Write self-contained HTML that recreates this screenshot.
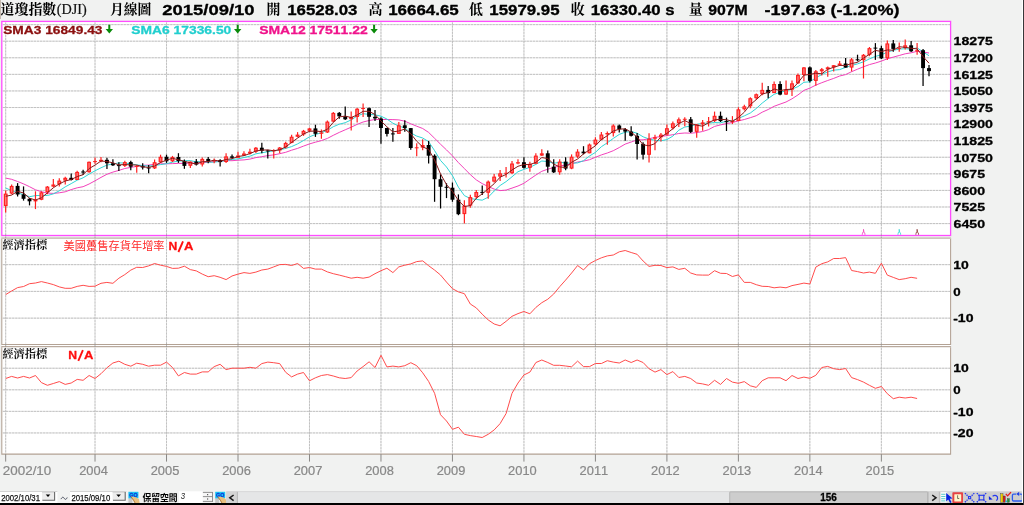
<!DOCTYPE html>
<html><head><meta charset="utf-8"><title>DJI</title><style>html,body{margin:0;padding:0;background:#f1f2f1;overflow:hidden}svg{will-change:transform}svg text{font-kerning:none}</style></head><body>
<svg width="1024" height="505" viewBox="0 0 1024 505" style="display:block">
<rect x="0" y="0" width="1024" height="505" fill="#f1f2f1"/>
<rect x="0" y="0" width="0.7" height="19" fill="#b4a494"/>
<rect x="1.8" y="21.4" width="948.8000000000001" height="214.1" fill="#fff"/>
<rect x="1.8" y="238.0" width="948.8000000000001" height="106.39999999999998" fill="#fff"/>
<rect x="1.8" y="346.6" width="948.8000000000001" height="107.5" fill="#fff"/>
<rect x="1.8" y="344.4" width="948.8000000000001" height="2.2000000000000455" fill="#fff"/>
<path d="M5.68 22.4V453.6M95.03 22.4V453.6M166.52 22.4V453.6M238.00 22.4V453.6M309.49 22.4V453.6M380.97 22.4V453.6M452.45 22.4V453.6M523.94 22.4V453.6M595.42 22.4V453.6M666.91 22.4V453.6M738.39 22.4V453.6M809.87 22.4V453.6M881.36 22.4V453.6M2.8 24.62H950.1M2.8 41.20H950.1M2.8 57.78H950.1M2.8 74.36H950.1M2.8 90.94H950.1M2.8 107.52H950.1M2.8 124.10H950.1M2.8 140.68H950.1M2.8 157.26H950.1M2.8 173.84H950.1M2.8 190.42H950.1M2.8 207.00H950.1M2.8 223.58H950.1M2.8 264.65H950.1M2.8 291.40H950.1M2.8 318.15H950.1M2.8 368.23H950.1M2.8 389.80H950.1M2.8 411.37H950.1M2.8 432.94H950.1" stroke="#e2e2e2" stroke-width="0.78" fill="none"/>
<path d="M5.68 22.4V453.6M95.03 22.4V453.6M166.52 22.4V453.6M238.00 22.4V453.6M309.49 22.4V453.6M380.97 22.4V453.6M452.45 22.4V453.6M523.94 22.4V453.6M595.42 22.4V453.6M666.91 22.4V453.6M738.39 22.4V453.6M809.87 22.4V453.6M881.36 22.4V453.6M2.8 24.62H950.1M2.8 41.20H950.1M2.8 57.78H950.1M2.8 74.36H950.1M2.8 90.94H950.1M2.8 107.52H950.1M2.8 124.10H950.1M2.8 140.68H950.1M2.8 157.26H950.1M2.8 173.84H950.1M2.8 190.42H950.1M2.8 207.00H950.1M2.8 223.58H950.1M2.8 264.65H950.1M2.8 291.40H950.1M2.8 318.15H950.1M2.8 368.23H950.1M2.8 389.80H950.1M2.8 411.37H950.1M2.8 432.94H950.1" stroke="#b5b5b5" stroke-width="0.78" stroke-dasharray="2.2 0.9" fill="none"/>
<polyline points="5.7,178.1 11.6,179.3 17.6,181.5 23.6,183.9 29.5,186.7 35.5,189.8 41.4,191.7 47.4,193.1 53.3,193.4 59.3,192.8 65.2,191.8 71.2,189.6 77.2,187.8 83.1,186.7 89.1,184.0 95.0,180.8 101.0,177.4 106.9,174.3 112.9,172.1 118.9,170.4 124.8,168.5 130.8,167.4 136.7,166.4 142.7,165.3 148.6,165.1 154.6,164.2 160.6,163.8 166.5,163.8 172.5,163.6 178.4,163.4 184.4,163.4 190.3,163.1 196.3,163.3 202.3,162.6 208.2,162.2 214.2,161.6 220.1,161.1 226.1,160.6 232.0,160.7 238.0,160.2 244.0,159.9 249.9,159.1 255.9,157.6 261.8,156.7 267.8,155.6 273.7,154.9 279.7,153.7 285.7,152.3 291.6,150.2 297.6,148.4 303.5,146.1 309.5,143.9 315.4,142.2 321.4,140.6 327.4,138.4 333.3,135.3 339.3,132.4 345.2,129.8 351.2,127.2 357.1,124.4 363.1,122.0 369.1,120.5 375.0,119.5 381.0,119.5 386.9,119.5 392.9,119.6 398.8,119.9 404.8,121.2 410.8,123.8 416.7,126.2 422.7,128.5 428.6,132.4 434.6,138.3 440.5,144.2 446.5,149.9 452.5,155.9 458.4,162.6 464.4,168.6 470.3,174.6 476.3,179.9 482.2,183.6 488.2,186.5 494.2,189.1 500.1,190.6 506.1,190.1 512.0,188.1 518.0,186.0 523.9,183.3 529.9,179.1 535.9,175.0 541.8,171.3 547.8,169.2 553.7,167.5 559.7,165.8 565.6,165.2 571.6,163.8 577.6,162.0 583.5,161.1 589.5,159.7 595.4,157.3 601.4,154.9 607.3,153.0 613.3,150.7 619.3,147.5 625.2,144.1 631.2,142.0 637.1,139.9 643.1,139.8 649.0,138.7 655.0,137.4 660.9,136.5 666.9,135.6 672.9,134.7 678.8,133.5 684.8,133.0 690.7,133.2 696.7,132.6 702.6,131.5 708.6,129.6 714.6,126.4 720.5,124.9 726.5,123.6 732.4,122.5 738.4,120.9 744.3,119.5 750.3,117.7 756.3,115.7 762.2,112.2 768.2,109.5 774.1,106.3 780.1,104.1 786.0,102.0 792.0,98.8 798.0,94.9 803.9,90.4 809.9,88.1 815.8,85.1 821.8,82.7 827.7,80.5 833.7,78.4 839.7,76.0 845.6,74.6 851.6,71.7 857.5,69.2 863.5,66.8 869.4,64.6 875.4,63.0 881.4,61.1 887.3,58.8 893.3,57.1 899.2,55.5 905.2,53.8 911.1,52.8 917.1,51.3 923.1,52.1 929.0,53.0" fill="none" stroke="#f23cb8" stroke-width="0.98" stroke-linejoin="round"/>
<polyline points="5.7,188.0 11.6,190.6 17.6,192.9 23.6,194.7 29.5,196.7 35.5,195.6 41.4,195.4 47.4,195.5 53.3,193.9 59.3,190.8 65.2,186.9 71.2,183.6 77.2,180.2 83.1,177.8 89.1,174.1 95.0,170.8 101.0,167.8 106.9,165.1 112.9,164.0 118.9,162.9 124.8,163.0 130.8,163.9 136.7,164.9 142.7,165.6 148.6,166.1 154.6,165.5 160.6,164.6 166.5,163.7 172.5,162.2 178.4,161.1 184.4,160.7 190.3,160.6 196.3,161.9 202.3,161.5 208.2,162.2 214.2,162.1 220.1,161.4 226.1,160.6 232.0,159.4 238.0,158.9 244.0,157.5 249.9,156.2 255.9,153.8 261.8,152.8 267.8,151.7 273.7,150.9 279.7,149.9 285.7,148.4 291.6,146.6 297.6,143.9 303.5,140.5 309.5,136.8 315.4,134.5 321.4,132.8 327.4,130.3 333.3,126.7 339.3,124.2 345.2,122.7 351.2,119.9 357.1,116.0 363.1,113.7 369.1,114.4 375.0,114.8 381.0,116.2 386.9,119.0 392.9,123.2 398.8,126.1 404.8,127.9 410.8,132.9 416.7,136.1 422.7,138.0 428.6,141.6 434.6,150.6 440.5,160.4 446.5,167.0 452.5,175.7 458.4,187.2 464.4,195.6 470.3,198.5 476.3,199.4 482.2,200.2 488.2,197.2 494.2,191.0 500.1,185.5 506.1,181.6 512.0,176.8 518.0,171.7 523.9,169.4 529.9,167.3 535.9,164.4 541.8,161.0 547.8,161.6 553.7,163.3 559.7,162.2 565.6,163.0 571.6,163.2 577.6,162.9 583.5,160.7 589.5,156.0 595.4,152.4 601.4,146.7 607.3,142.8 613.3,138.4 619.3,134.4 625.2,132.2 631.2,131.6 637.1,133.2 643.1,136.8 649.0,139.0 655.0,140.3 660.9,140.8 666.9,139.6 672.9,136.1 678.8,130.2 684.8,127.0 690.7,126.1 696.7,124.4 702.6,123.4 708.6,123.1 714.6,122.5 720.5,122.8 726.5,121.2 732.4,120.6 738.4,118.4 744.3,115.9 750.3,113.0 756.3,108.5 762.2,103.1 768.2,98.5 774.1,94.3 780.1,92.3 786.0,90.9 792.0,89.1 798.0,86.6 803.9,82.3 809.9,81.8 815.8,77.9 821.8,74.5 827.7,71.9 833.7,70.2 839.7,69.6 845.6,67.4 851.6,65.4 857.5,63.9 863.5,61.8 869.4,58.9 875.4,56.4 881.4,54.8 887.3,52.2 893.3,50.3 899.2,49.1 905.2,48.7 911.1,49.2 917.1,47.8 923.1,52.0 929.0,55.7" fill="none" stroke="#2cd4d4" stroke-width="0.98" stroke-linejoin="round"/>
<path d="M5.68 190.5V212.4" stroke="#ff2020" stroke-width="1.2"/>
<rect x="3.73" y="193.6" width="3.9" height="12.4" fill="#ff2222"/>
<rect x="4.98" y="194.7" width="1.4" height="10.2" fill="#ff7a7a"/>
<path d="M11.64 184.6V194.2" stroke="#ff2020" stroke-width="1.2"/>
<rect x="9.69" y="185.9" width="3.9" height="7.7" fill="#ff2222"/>
<rect x="10.94" y="187.0" width="1.4" height="5.5" fill="#ff7a7a"/>
<path d="M17.59 183.1V196.5" stroke="#000" stroke-width="1.25"/>
<rect x="15.64" y="185.9" width="3.9" height="8.6" fill="#000"/>
<path d="M23.55 186.4V200.6" stroke="#000" stroke-width="1.25"/>
<rect x="21.60" y="194.4" width="3.9" height="4.4" fill="#000"/>
<path d="M29.51 197.9V205.4" stroke="#000" stroke-width="1.25"/>
<rect x="27.56" y="198.8" width="3.9" height="2.5" fill="#000"/>
<path d="M35.47 191.3V209.1" stroke="#ff2020" stroke-width="1.2"/>
<rect x="33.52" y="199.8" width="3.9" height="1.6" fill="#ff2222"/>
<path d="M41.42 191.3V200.2" stroke="#ff2020" stroke-width="1.2"/>
<rect x="39.47" y="192.3" width="3.9" height="7.5" fill="#ff2222"/>
<rect x="40.72" y="193.4" width="1.4" height="5.3" fill="#ff7a7a"/>
<path d="M47.38 186.1V194.2" stroke="#ff2020" stroke-width="1.2"/>
<rect x="45.43" y="186.6" width="3.9" height="5.7" fill="#ff2222"/>
<rect x="46.68" y="187.7" width="1.4" height="3.5" fill="#ff7a7a"/>
<path d="M53.34 178.9V187.3" stroke="#ff2020" stroke-width="1.2"/>
<rect x="51.39" y="184.5" width="3.9" height="2.1" fill="#ff2222"/>
<path d="M59.29 178.3V186.4" stroke="#ff2020" stroke-width="1.2"/>
<rect x="57.34" y="180.6" width="3.9" height="3.8" fill="#ff2222"/>
<rect x="58.59" y="181.7" width="1.4" height="1.6" fill="#ff7a7a"/>
<path d="M65.25 176.8V184.6" stroke="#ff2020" stroke-width="1.2"/>
<rect x="63.30" y="177.8" width="3.9" height="2.8" fill="#ff2222"/>
<rect x="64.55" y="178.9" width="1.4" height="0.6" fill="#ff7a7a"/>
<path d="M71.21 173.4V180.4" stroke="#000" stroke-width="1.25"/>
<rect x="69.26" y="177.8" width="3.9" height="2.2" fill="#000"/>
<path d="M77.16 170.8V180.1" stroke="#ff2020" stroke-width="1.2"/>
<rect x="75.21" y="171.9" width="3.9" height="8.1" fill="#ff2222"/>
<rect x="76.46" y="173.0" width="1.4" height="5.9" fill="#ff7a7a"/>
<path d="M83.12 169.7V174.9" stroke="#000" stroke-width="1.25"/>
<rect x="81.17" y="171.5" width="3.9" height="1.0" fill="#000"/>
<path d="M89.08 161.5V172.7" stroke="#ff2020" stroke-width="1.2"/>
<rect x="87.13" y="161.8" width="3.9" height="10.4" fill="#ff2222"/>
<rect x="88.38" y="162.9" width="1.4" height="8.2" fill="#ff7a7a"/>
<path d="M95.03 157.5V163.8" stroke="#ff2020" stroke-width="1.2"/>
<rect x="93.08" y="161.1" width="3.9" height="1.0" fill="#ff2222"/>
<path d="M100.99 157.1V162.3" stroke="#ff2020" stroke-width="1.2"/>
<rect x="99.04" y="159.8" width="3.9" height="1.5" fill="#ff2222"/>
<path d="M106.95 157.8V169.0" stroke="#000" stroke-width="1.25"/>
<rect x="105.00" y="159.8" width="3.9" height="3.5" fill="#000"/>
<path d="M112.91 159.3V166.0" stroke="#000" stroke-width="1.25"/>
<rect x="110.96" y="163.3" width="3.9" height="2.0" fill="#000"/>
<path d="M118.86 162.3V170.9" stroke="#000" stroke-width="1.25"/>
<rect x="116.91" y="165.1" width="3.9" height="1.0" fill="#000"/>
<path d="M124.82 160.7V166.9" stroke="#ff2020" stroke-width="1.2"/>
<rect x="122.87" y="162.1" width="3.9" height="3.8" fill="#ff2222"/>
<rect x="124.12" y="163.2" width="1.4" height="1.6" fill="#ff7a7a"/>
<path d="M130.78 160.7V170.3" stroke="#000" stroke-width="1.25"/>
<rect x="128.83" y="162.1" width="3.9" height="4.6" fill="#000"/>
<path d="M136.73 165.1V172.8" stroke="#ff2020" stroke-width="1.2"/>
<rect x="134.78" y="165.9" width="3.9" height="1.0" fill="#ff2222"/>
<path d="M142.69 163.3V169.6" stroke="#000" stroke-width="1.25"/>
<rect x="140.74" y="166.1" width="3.9" height="1.4" fill="#000"/>
<path d="M148.65 165.1V173.3" stroke="#000" stroke-width="1.25"/>
<rect x="146.70" y="167.5" width="3.9" height="1.0" fill="#000"/>
<path d="M154.60 159.5V169.1" stroke="#ff2020" stroke-width="1.2"/>
<rect x="152.66" y="162.2" width="3.9" height="6.2" fill="#ff2222"/>
<rect x="153.91" y="163.3" width="1.4" height="4.0" fill="#ff7a7a"/>
<path d="M160.56 154.7V162.9" stroke="#ff2020" stroke-width="1.2"/>
<rect x="158.61" y="156.8" width="3.9" height="5.5" fill="#ff2222"/>
<rect x="159.86" y="157.9" width="1.4" height="3.3" fill="#ff7a7a"/>
<path d="M166.52 154.7V162.9" stroke="#000" stroke-width="1.25"/>
<rect x="164.57" y="156.8" width="3.9" height="4.5" fill="#000"/>
<path d="M172.48 155.9V162.1" stroke="#ff2020" stroke-width="1.2"/>
<rect x="170.53" y="157.0" width="3.9" height="4.3" fill="#ff2222"/>
<rect x="171.78" y="158.1" width="1.4" height="2.1" fill="#ff7a7a"/>
<path d="M178.43 153.2V162.9" stroke="#000" stroke-width="1.25"/>
<rect x="176.48" y="157.0" width="3.9" height="4.0" fill="#000"/>
<path d="M184.39 159.5V168.8" stroke="#000" stroke-width="1.25"/>
<rect x="182.44" y="161.1" width="3.9" height="4.8" fill="#000"/>
<path d="M190.35 161.4V168.1" stroke="#ff2020" stroke-width="1.2"/>
<rect x="188.40" y="161.6" width="3.9" height="4.2" fill="#ff2222"/>
<rect x="189.65" y="162.7" width="1.4" height="2.0" fill="#ff7a7a"/>
<path d="M196.30 158.9V165.4" stroke="#000" stroke-width="1.25"/>
<rect x="194.35" y="161.6" width="3.9" height="3.0" fill="#000"/>
<path d="M202.26 157.4V166.6" stroke="#ff2020" stroke-width="1.2"/>
<rect x="200.31" y="158.9" width="3.9" height="5.6" fill="#ff2222"/>
<rect x="201.56" y="160.0" width="1.4" height="3.4" fill="#ff7a7a"/>
<path d="M208.22 156.9V163.3" stroke="#000" stroke-width="1.25"/>
<rect x="206.27" y="158.9" width="3.9" height="2.5" fill="#000"/>
<path d="M214.18 158.4V163.3" stroke="#ff2020" stroke-width="1.2"/>
<rect x="212.23" y="160.1" width="3.9" height="1.3" fill="#ff2222"/>
<path d="M220.13 159.2V166.6" stroke="#000" stroke-width="1.25"/>
<rect x="218.18" y="160.1" width="3.9" height="2.0" fill="#000"/>
<path d="M226.09 153.2V162.9" stroke="#ff2020" stroke-width="1.2"/>
<rect x="224.14" y="156.4" width="3.9" height="5.6" fill="#ff2222"/>
<rect x="225.39" y="157.5" width="1.4" height="3.4" fill="#ff7a7a"/>
<path d="M232.05 154.4V158.4" stroke="#000" stroke-width="1.25"/>
<rect x="230.10" y="156.4" width="3.9" height="1.4" fill="#000"/>
<path d="M238.00 151.7V158.0" stroke="#ff2020" stroke-width="1.2"/>
<rect x="236.05" y="155.5" width="3.9" height="2.3" fill="#ff2222"/>
<path d="M243.96 151.2V155.9" stroke="#ff2020" stroke-width="1.2"/>
<rect x="242.01" y="153.5" width="3.9" height="2.0" fill="#ff2222"/>
<path d="M249.92 148.8V154.4" stroke="#ff2020" stroke-width="1.2"/>
<rect x="247.97" y="151.7" width="3.9" height="1.8" fill="#ff2222"/>
<path d="M255.87 147.0V152.9" stroke="#ff2020" stroke-width="1.2"/>
<rect x="253.92" y="147.7" width="3.9" height="4.0" fill="#ff2222"/>
<rect x="255.17" y="148.8" width="1.4" height="1.8" fill="#ff7a7a"/>
<path d="M261.83 142.8V153.2" stroke="#000" stroke-width="1.25"/>
<rect x="259.88" y="147.7" width="3.9" height="3.1" fill="#000"/>
<path d="M267.79 149.7V158.6" stroke="#000" stroke-width="1.25"/>
<rect x="265.84" y="150.4" width="3.9" height="1.0" fill="#000"/>
<path d="M273.75 149.2V158.6" stroke="#ff2020" stroke-width="1.2"/>
<rect x="271.80" y="150.3" width="3.9" height="1.0" fill="#ff2222"/>
<path d="M279.70 147.0V153.2" stroke="#ff2020" stroke-width="1.2"/>
<rect x="277.75" y="147.5" width="3.9" height="3.0" fill="#ff2222"/>
<rect x="279.00" y="148.6" width="1.4" height="0.8" fill="#ff7a7a"/>
<path d="M285.66 141.8V148.5" stroke="#ff2020" stroke-width="1.2"/>
<rect x="283.71" y="142.9" width="3.9" height="4.6" fill="#ff2222"/>
<rect x="284.96" y="144.0" width="1.4" height="2.4" fill="#ff7a7a"/>
<path d="M291.62 134.8V143.3" stroke="#ff2020" stroke-width="1.2"/>
<rect x="289.67" y="136.7" width="3.9" height="6.2" fill="#ff2222"/>
<rect x="290.92" y="137.8" width="1.4" height="4.0" fill="#ff7a7a"/>
<path d="M297.57 132.1V137.3" stroke="#ff2020" stroke-width="1.2"/>
<rect x="295.62" y="134.6" width="3.9" height="2.2" fill="#ff2222"/>
<path d="M303.53 129.9V135.9" stroke="#ff2020" stroke-width="1.2"/>
<rect x="301.58" y="130.8" width="3.9" height="3.7" fill="#ff2222"/>
<rect x="302.83" y="131.9" width="1.4" height="1.5" fill="#ff7a7a"/>
<path d="M309.49 127.7V132.1" stroke="#ff2020" stroke-width="1.2"/>
<rect x="307.54" y="128.4" width="3.9" height="2.4" fill="#ff2222"/>
<path d="M315.44 124.7V136.9" stroke="#000" stroke-width="1.25"/>
<rect x="313.49" y="128.4" width="3.9" height="5.4" fill="#000"/>
<path d="M321.40 129.5V138.8" stroke="#ff2020" stroke-width="1.2"/>
<rect x="319.45" y="132.5" width="3.9" height="1.3" fill="#ff2222"/>
<path d="M327.36 120.6V132.9" stroke="#ff2020" stroke-width="1.2"/>
<rect x="325.41" y="121.6" width="3.9" height="10.9" fill="#ff2222"/>
<rect x="326.66" y="122.7" width="1.4" height="8.7" fill="#ff7a7a"/>
<path d="M333.31 112.1V122.2" stroke="#ff2020" stroke-width="1.2"/>
<rect x="331.37" y="112.9" width="3.9" height="8.7" fill="#ff2222"/>
<rect x="332.62" y="114.0" width="1.4" height="6.5" fill="#ff7a7a"/>
<path d="M339.27 112.1V118.8" stroke="#000" stroke-width="1.25"/>
<rect x="337.32" y="112.9" width="3.9" height="3.4" fill="#000"/>
<path d="M345.23 106.6V120.0" stroke="#000" stroke-width="1.25"/>
<rect x="343.28" y="116.3" width="3.9" height="3.0" fill="#000"/>
<path d="M351.19 111.6V130.4" stroke="#ff2020" stroke-width="1.2"/>
<rect x="349.24" y="117.0" width="3.9" height="2.2" fill="#ff2222"/>
<path d="M357.14 108.1V122.5" stroke="#ff2020" stroke-width="1.2"/>
<rect x="355.19" y="108.7" width="3.9" height="8.3" fill="#ff2222"/>
<rect x="356.44" y="109.8" width="1.4" height="6.1" fill="#ff7a7a"/>
<path d="M363.10 103.6V117.0" stroke="#ff2020" stroke-width="1.2"/>
<rect x="361.15" y="108.0" width="3.9" height="1.0" fill="#ff2222"/>
<path d="M369.06 107.6V126.9" stroke="#000" stroke-width="1.25"/>
<rect x="367.11" y="108.2" width="3.9" height="8.6" fill="#000"/>
<path d="M375.01 109.9V121.0" stroke="#000" stroke-width="1.25"/>
<rect x="373.06" y="116.8" width="3.9" height="1.6" fill="#000"/>
<path d="M380.97 117.3V143.7" stroke="#000" stroke-width="1.25"/>
<rect x="379.02" y="118.5" width="3.9" height="9.5" fill="#000"/>
<path d="M386.93 127.7V136.6" stroke="#000" stroke-width="1.25"/>
<rect x="384.98" y="128.0" width="3.9" height="5.9" fill="#000"/>
<path d="M392.88 128.0V141.8" stroke="#000" stroke-width="1.25"/>
<rect x="390.94" y="133.4" width="3.9" height="1.0" fill="#000"/>
<path d="M398.84 122.0V133.9" stroke="#ff2020" stroke-width="1.2"/>
<rect x="396.89" y="125.3" width="3.9" height="8.6" fill="#ff2222"/>
<rect x="398.14" y="126.4" width="1.4" height="6.4" fill="#ff7a7a"/>
<path d="M404.80 120.3V131.8" stroke="#000" stroke-width="1.25"/>
<rect x="402.85" y="125.3" width="3.9" height="2.8" fill="#000"/>
<path d="M410.76 128.0V149.7" stroke="#000" stroke-width="1.25"/>
<rect x="408.81" y="128.1" width="3.9" height="19.9" fill="#000"/>
<path d="M416.71 143.3V156.2" stroke="#ff2020" stroke-width="1.2"/>
<rect x="414.76" y="147.3" width="3.9" height="1.0" fill="#ff2222"/>
<path d="M422.67 139.3V150.3" stroke="#ff2020" stroke-width="1.2"/>
<rect x="420.72" y="145.0" width="3.9" height="2.6" fill="#ff2222"/>
<path d="M428.63 141.1V163.6" stroke="#000" stroke-width="1.25"/>
<rect x="426.68" y="145.0" width="3.9" height="10.7" fill="#000"/>
<path d="M434.58 154.3V201.8" stroke="#000" stroke-width="1.25"/>
<rect x="432.63" y="155.7" width="3.9" height="23.5" fill="#000"/>
<path d="M440.54 174.3V208.5" stroke="#000" stroke-width="1.25"/>
<rect x="438.59" y="179.2" width="3.9" height="7.6" fill="#000"/>
<path d="M446.50 183.2V198.1" stroke="#000" stroke-width="1.25"/>
<rect x="444.55" y="186.8" width="3.9" height="1.0" fill="#000"/>
<path d="M452.45 182.5V201.8" stroke="#000" stroke-width="1.25"/>
<rect x="450.50" y="187.7" width="3.9" height="12.0" fill="#000"/>
<path d="M458.41 194.4V215.2" stroke="#000" stroke-width="1.25"/>
<rect x="456.46" y="199.7" width="3.9" height="14.5" fill="#000"/>
<path d="M464.37 200.3V223.6" stroke="#ff2020" stroke-width="1.2"/>
<rect x="462.42" y="205.7" width="3.9" height="8.4" fill="#ff2222"/>
<rect x="463.67" y="206.8" width="1.4" height="6.2" fill="#ff7a7a"/>
<path d="M470.33 194.8V207.7" stroke="#ff2020" stroke-width="1.2"/>
<rect x="468.38" y="197.1" width="3.9" height="8.6" fill="#ff2222"/>
<rect x="469.63" y="198.2" width="1.4" height="6.4" fill="#ff7a7a"/>
<path d="M476.28 189.9V198.8" stroke="#ff2020" stroke-width="1.2"/>
<rect x="474.33" y="192.0" width="3.9" height="5.1" fill="#ff2222"/>
<rect x="475.58" y="193.1" width="1.4" height="2.9" fill="#ff7a7a"/>
<path d="M482.24 185.5V195.1" stroke="#000" stroke-width="1.25"/>
<rect x="480.29" y="191.9" width="3.9" height="1.0" fill="#000"/>
<path d="M488.20 180.6V198.8" stroke="#ff2020" stroke-width="1.2"/>
<rect x="486.25" y="181.6" width="3.9" height="11.2" fill="#ff2222"/>
<rect x="487.50" y="182.7" width="1.4" height="9.0" fill="#ff7a7a"/>
<path d="M494.15 174.0V182.5" stroke="#ff2020" stroke-width="1.2"/>
<rect x="492.20" y="176.6" width="3.9" height="5.0" fill="#ff2222"/>
<rect x="493.45" y="177.7" width="1.4" height="2.8" fill="#ff7a7a"/>
<path d="M500.11 170.0V181.1" stroke="#ff2020" stroke-width="1.2"/>
<rect x="498.16" y="173.3" width="3.9" height="3.3" fill="#ff2222"/>
<rect x="499.41" y="174.4" width="1.4" height="1.1" fill="#ff7a7a"/>
<path d="M506.07 167.0V177.4" stroke="#ff2020" stroke-width="1.2"/>
<rect x="504.12" y="172.8" width="3.9" height="1.0" fill="#ff2222"/>
<path d="M512.02 161.1V174.1" stroke="#ff2020" stroke-width="1.2"/>
<rect x="510.07" y="163.5" width="3.9" height="9.7" fill="#ff2222"/>
<rect x="511.32" y="164.6" width="1.4" height="7.5" fill="#ff7a7a"/>
<path d="M517.98 159.3V164.3" stroke="#ff2020" stroke-width="1.2"/>
<rect x="516.03" y="162.2" width="3.9" height="1.3" fill="#ff2222"/>
<path d="M523.94 157.3V168.5" stroke="#000" stroke-width="1.25"/>
<rect x="521.99" y="162.2" width="3.9" height="5.6" fill="#000"/>
<path d="M529.90 161.8V171.8" stroke="#ff2020" stroke-width="1.2"/>
<rect x="527.95" y="163.8" width="3.9" height="4.0" fill="#ff2222"/>
<rect x="529.20" y="164.9" width="1.4" height="1.8" fill="#ff7a7a"/>
<path d="M535.85 153.3V163.8" stroke="#ff2020" stroke-width="1.2"/>
<rect x="533.90" y="155.6" width="3.9" height="8.2" fill="#ff2222"/>
<rect x="535.15" y="156.7" width="1.4" height="6.0" fill="#ff7a7a"/>
<path d="M541.81 149.2V155.9" stroke="#ff2020" stroke-width="1.2"/>
<rect x="539.86" y="153.3" width="3.9" height="2.3" fill="#ff2222"/>
<path d="M547.77 150.4V172.7" stroke="#000" stroke-width="1.25"/>
<rect x="545.82" y="153.3" width="3.9" height="13.4" fill="#000"/>
<path d="M553.72 159.3V172.9" stroke="#000" stroke-width="1.25"/>
<rect x="551.77" y="166.7" width="3.9" height="5.6" fill="#000"/>
<path d="M559.68 159.3V174.7" stroke="#ff2020" stroke-width="1.2"/>
<rect x="557.73" y="161.6" width="3.9" height="10.7" fill="#ff2222"/>
<rect x="558.98" y="162.7" width="1.4" height="8.5" fill="#ff7a7a"/>
<path d="M565.64 157.3V170.3" stroke="#000" stroke-width="1.25"/>
<rect x="563.69" y="161.6" width="3.9" height="7.0" fill="#000"/>
<path d="M571.59 154.4V169.2" stroke="#ff2020" stroke-width="1.2"/>
<rect x="569.64" y="156.7" width="3.9" height="11.9" fill="#ff2222"/>
<rect x="570.89" y="157.8" width="1.4" height="9.7" fill="#ff7a7a"/>
<path d="M577.55 149.2V158.1" stroke="#ff2020" stroke-width="1.2"/>
<rect x="575.60" y="151.6" width="3.9" height="5.1" fill="#ff2222"/>
<rect x="576.85" y="152.7" width="1.4" height="2.9" fill="#ff7a7a"/>
<path d="M583.51 146.2V154.4" stroke="#000" stroke-width="1.25"/>
<rect x="581.56" y="151.6" width="3.9" height="1.7" fill="#000"/>
<path d="M589.47 143.5V153.3" stroke="#ff2020" stroke-width="1.2"/>
<rect x="587.52" y="144.5" width="3.9" height="8.8" fill="#ff2222"/>
<rect x="588.77" y="145.6" width="1.4" height="6.6" fill="#ff7a7a"/>
<path d="M595.42 137.3V145.9" stroke="#ff2020" stroke-width="1.2"/>
<rect x="593.47" y="139.6" width="3.9" height="4.8" fill="#ff2222"/>
<rect x="594.72" y="140.7" width="1.4" height="2.6" fill="#ff7a7a"/>
<path d="M601.38 132.1V140.3" stroke="#ff2020" stroke-width="1.2"/>
<rect x="599.43" y="134.5" width="3.9" height="5.2" fill="#ff2222"/>
<rect x="600.68" y="135.6" width="1.4" height="3.0" fill="#ff7a7a"/>
<path d="M607.34 131.6V144.7" stroke="#ff2020" stroke-width="1.2"/>
<rect x="605.39" y="133.0" width="3.9" height="1.4" fill="#ff2222"/>
<path d="M613.29 124.2V136.5" stroke="#ff2020" stroke-width="1.2"/>
<rect x="611.34" y="125.5" width="3.9" height="7.6" fill="#ff2222"/>
<rect x="612.59" y="126.6" width="1.4" height="5.4" fill="#ff7a7a"/>
<path d="M619.25 124.4V132.4" stroke="#000" stroke-width="1.25"/>
<rect x="617.30" y="125.5" width="3.9" height="3.7" fill="#000"/>
<path d="M625.21 128.0V140.8" stroke="#000" stroke-width="1.25"/>
<rect x="623.26" y="129.2" width="3.9" height="2.4" fill="#000"/>
<path d="M631.16 126.2V136.6" stroke="#000" stroke-width="1.25"/>
<rect x="629.21" y="131.6" width="3.9" height="4.2" fill="#000"/>
<path d="M637.12 132.9V159.6" stroke="#000" stroke-width="1.25"/>
<rect x="635.17" y="135.8" width="3.9" height="8.2" fill="#000"/>
<path d="M643.08 142.3V159.6" stroke="#000" stroke-width="1.25"/>
<rect x="641.13" y="143.9" width="3.9" height="10.8" fill="#000"/>
<path d="M649.04 133.3V162.6" stroke="#ff2020" stroke-width="1.2"/>
<rect x="647.09" y="138.7" width="3.9" height="16.1" fill="#ff2222"/>
<rect x="648.34" y="139.8" width="1.4" height="13.9" fill="#ff7a7a"/>
<path d="M654.99 134.8V150.3" stroke="#ff2020" stroke-width="1.2"/>
<rect x="653.04" y="137.3" width="3.9" height="1.4" fill="#ff2222"/>
<path d="M660.95 132.9V141.4" stroke="#ff2020" stroke-width="1.2"/>
<rect x="659.00" y="134.6" width="3.9" height="2.7" fill="#ff2222"/>
<rect x="660.25" y="135.7" width="1.4" height="0.5" fill="#ff7a7a"/>
<path d="M666.91 124.4V135.4" stroke="#ff2020" stroke-width="1.2"/>
<rect x="664.96" y="128.2" width="3.9" height="6.4" fill="#ff2222"/>
<rect x="666.21" y="129.3" width="1.4" height="4.2" fill="#ff7a7a"/>
<path d="M672.86 121.4V129.5" stroke="#ff2020" stroke-width="1.2"/>
<rect x="670.91" y="123.3" width="3.9" height="4.9" fill="#ff2222"/>
<rect x="672.16" y="124.4" width="1.4" height="2.7" fill="#ff7a7a"/>
<path d="M678.82 117.6V126.9" stroke="#ff2020" stroke-width="1.2"/>
<rect x="676.87" y="119.3" width="3.9" height="4.0" fill="#ff2222"/>
<rect x="678.12" y="120.4" width="1.4" height="1.8" fill="#ff7a7a"/>
<path d="M684.78 117.3V126.2" stroke="#ff2020" stroke-width="1.2"/>
<rect x="682.83" y="118.8" width="3.9" height="1.0" fill="#ff2222"/>
<path d="M690.73 117.0V132.9" stroke="#000" stroke-width="1.25"/>
<rect x="688.78" y="119.3" width="3.9" height="12.6" fill="#000"/>
<path d="M696.69 124.0V137.8" stroke="#ff2020" stroke-width="1.2"/>
<rect x="694.74" y="124.4" width="3.9" height="7.5" fill="#ff2222"/>
<rect x="695.99" y="125.5" width="1.4" height="5.3" fill="#ff7a7a"/>
<path d="M702.65 120.0V130.7" stroke="#ff2020" stroke-width="1.2"/>
<rect x="700.70" y="122.4" width="3.9" height="2.0" fill="#ff2222"/>
<path d="M708.61 117.0V126.5" stroke="#ff2020" stroke-width="1.2"/>
<rect x="706.66" y="121.2" width="3.9" height="1.3" fill="#ff2222"/>
<path d="M714.56 111.6V122.0" stroke="#ff2020" stroke-width="1.2"/>
<rect x="712.61" y="115.8" width="3.9" height="5.3" fill="#ff2222"/>
<rect x="713.86" y="116.9" width="1.4" height="3.1" fill="#ff7a7a"/>
<path d="M720.52 111.6V122.0" stroke="#000" stroke-width="1.25"/>
<rect x="718.57" y="115.8" width="3.9" height="5.3" fill="#000"/>
<path d="M726.48 117.6V131.0" stroke="#000" stroke-width="1.25"/>
<rect x="724.53" y="121.1" width="3.9" height="1.1" fill="#000"/>
<path d="M732.43 116.1V124.0" stroke="#ff2020" stroke-width="1.2"/>
<rect x="730.48" y="121.0" width="3.9" height="1.2" fill="#ff2222"/>
<path d="M738.39 107.2V121.3" stroke="#ff2020" stroke-width="1.2"/>
<rect x="736.44" y="109.3" width="3.9" height="11.7" fill="#ff2222"/>
<rect x="737.69" y="110.4" width="1.4" height="9.5" fill="#ff7a7a"/>
<path d="M744.35 104.7V110.6" stroke="#ff2020" stroke-width="1.2"/>
<rect x="742.40" y="106.3" width="3.9" height="3.0" fill="#ff2222"/>
<rect x="743.65" y="107.4" width="1.4" height="0.8" fill="#ff7a7a"/>
<path d="M750.30 97.3V108.2" stroke="#ff2020" stroke-width="1.2"/>
<rect x="748.35" y="98.2" width="3.9" height="8.1" fill="#ff2222"/>
<rect x="749.60" y="99.3" width="1.4" height="5.9" fill="#ff7a7a"/>
<path d="M756.26 93.4V99.8" stroke="#ff2020" stroke-width="1.2"/>
<rect x="754.31" y="94.2" width="3.9" height="4.0" fill="#ff2222"/>
<rect x="755.56" y="95.3" width="1.4" height="1.8" fill="#ff7a7a"/>
<path d="M762.22 82.7V95.3" stroke="#ff2020" stroke-width="1.2"/>
<rect x="760.27" y="89.9" width="3.9" height="4.3" fill="#ff2222"/>
<rect x="761.52" y="91.0" width="1.4" height="2.1" fill="#ff7a7a"/>
<path d="M768.18 86.1V98.3" stroke="#000" stroke-width="1.25"/>
<rect x="766.23" y="89.9" width="3.9" height="3.2" fill="#000"/>
<path d="M774.13 81.5V93.1" stroke="#ff2020" stroke-width="1.2"/>
<rect x="772.18" y="84.0" width="3.9" height="9.1" fill="#ff2222"/>
<rect x="773.43" y="85.1" width="1.4" height="6.9" fill="#ff7a7a"/>
<path d="M780.09 81.2V95.3" stroke="#000" stroke-width="1.25"/>
<rect x="778.14" y="84.0" width="3.9" height="10.6" fill="#000"/>
<path d="M786.05 80.5V94.9" stroke="#ff2020" stroke-width="1.2"/>
<rect x="784.10" y="89.7" width="3.9" height="4.9" fill="#ff2222"/>
<rect x="785.35" y="90.8" width="1.4" height="2.7" fill="#ff7a7a"/>
<path d="M792.00 80.5V96.1" stroke="#ff2020" stroke-width="1.2"/>
<rect x="790.05" y="83.3" width="3.9" height="6.4" fill="#ff2222"/>
<rect x="791.30" y="84.4" width="1.4" height="4.2" fill="#ff7a7a"/>
<path d="M797.96 73.5V83.9" stroke="#ff2020" stroke-width="1.2"/>
<rect x="796.01" y="75.0" width="3.9" height="8.3" fill="#ff2222"/>
<rect x="797.26" y="76.1" width="1.4" height="6.1" fill="#ff7a7a"/>
<path d="M803.92 67.1V81.2" stroke="#ff2020" stroke-width="1.2"/>
<rect x="801.97" y="67.4" width="3.9" height="7.6" fill="#ff2222"/>
<rect x="803.22" y="68.5" width="1.4" height="5.4" fill="#ff7a7a"/>
<path d="M809.87 66.6V82.4" stroke="#000" stroke-width="1.25"/>
<rect x="807.92" y="67.4" width="3.9" height="13.5" fill="#000"/>
<path d="M815.83 70.1V85.7" stroke="#ff2020" stroke-width="1.2"/>
<rect x="813.88" y="71.3" width="3.9" height="9.6" fill="#ff2222"/>
<rect x="815.13" y="72.4" width="1.4" height="7.4" fill="#ff7a7a"/>
<path d="M821.79 68.1V75.6" stroke="#ff2020" stroke-width="1.2"/>
<rect x="819.84" y="69.2" width="3.9" height="2.1" fill="#ff2222"/>
<path d="M827.75 66.6V76.7" stroke="#ff2020" stroke-width="1.2"/>
<rect x="825.80" y="67.3" width="3.9" height="1.9" fill="#ff2222"/>
<path d="M833.70 64.9V71.5" stroke="#ff2020" stroke-width="1.2"/>
<rect x="831.75" y="65.2" width="3.9" height="2.1" fill="#ff2222"/>
<path d="M839.66 61.1V66.0" stroke="#ff2020" stroke-width="1.2"/>
<rect x="837.71" y="63.5" width="3.9" height="1.7" fill="#ff2222"/>
<path d="M845.62 58.0V67.6" stroke="#000" stroke-width="1.25"/>
<rect x="843.67" y="63.5" width="3.9" height="4.1" fill="#000"/>
<path d="M851.57 58.0V71.4" stroke="#ff2020" stroke-width="1.2"/>
<rect x="849.62" y="59.3" width="3.9" height="8.3" fill="#ff2222"/>
<rect x="850.87" y="60.4" width="1.4" height="6.1" fill="#ff7a7a"/>
<path d="M857.53 54.7V61.4" stroke="#000" stroke-width="1.25"/>
<rect x="855.58" y="59.3" width="3.9" height="1.0" fill="#000"/>
<path d="M863.49 54.0V78.5" stroke="#ff2020" stroke-width="1.2"/>
<rect x="861.54" y="54.8" width="3.9" height="5.4" fill="#ff2222"/>
<rect x="862.79" y="55.9" width="1.4" height="3.2" fill="#ff7a7a"/>
<path d="M869.44 47.0V56.2" stroke="#ff2020" stroke-width="1.2"/>
<rect x="867.49" y="48.1" width="3.9" height="6.8" fill="#ff2222"/>
<rect x="868.74" y="49.2" width="1.4" height="4.6" fill="#ff7a7a"/>
<path d="M875.40 43.1V59.9" stroke="#000" stroke-width="1.25"/>
<rect x="873.45" y="47.6" width="3.9" height="1.0" fill="#000"/>
<path d="M881.36 45.8V58.9" stroke="#000" stroke-width="1.25"/>
<rect x="879.41" y="48.2" width="3.9" height="10.2" fill="#000"/>
<path d="M887.32 40.6V59.9" stroke="#ff2020" stroke-width="1.2"/>
<rect x="885.37" y="43.4" width="3.9" height="14.9" fill="#ff2222"/>
<rect x="886.62" y="44.5" width="1.4" height="12.7" fill="#ff7a7a"/>
<path d="M893.27 39.9V51.7" stroke="#000" stroke-width="1.25"/>
<rect x="891.32" y="43.4" width="3.9" height="5.5" fill="#000"/>
<path d="M899.23 42.5V51.7" stroke="#ff2020" stroke-width="1.2"/>
<rect x="897.28" y="47.9" width="3.9" height="1.0" fill="#ff2222"/>
<path d="M905.19 39.6V49.5" stroke="#ff2020" stroke-width="1.2"/>
<rect x="903.24" y="45.3" width="3.9" height="2.6" fill="#ff2222"/>
<rect x="904.49" y="46.4" width="1.4" height="0.4" fill="#ff7a7a"/>
<path d="M911.14 41.0V52.0" stroke="#000" stroke-width="1.25"/>
<rect x="909.19" y="45.3" width="3.9" height="6.0" fill="#000"/>
<path d="M917.10 43.1V54.7" stroke="#ff2020" stroke-width="1.2"/>
<rect x="915.15" y="50.2" width="3.9" height="1.1" fill="#ff2222"/>
<path d="M923.06 49.1V85.9" stroke="#000" stroke-width="1.25"/>
<rect x="921.11" y="50.2" width="3.9" height="17.9" fill="#000"/>
<path d="M929.01 65.1V76.3" stroke="#000" stroke-width="1.25"/>
<rect x="927.06" y="68.1" width="3.9" height="3.0" fill="#000"/>
<polyline points="5.7,196.3 11.6,195.1 17.6,191.3 23.6,193.0 29.5,198.2 35.5,200.0 41.4,197.8 47.4,192.9 53.3,187.8 59.3,183.9 65.2,181.0 71.2,179.5 77.2,176.6 83.1,174.7 89.1,168.6 95.0,165.1 101.0,161.0 106.9,161.5 112.9,162.8 118.9,164.9 124.8,164.5 130.8,164.9 136.7,165.0 142.7,166.8 148.6,167.4 154.6,166.1 160.6,162.5 166.5,160.1 172.5,158.3 178.4,159.8 184.4,161.3 190.3,162.8 196.3,164.0 202.3,161.7 208.2,161.6 214.2,160.1 220.1,161.2 226.1,159.5 232.0,158.7 238.0,156.5 244.0,155.6 249.9,153.6 255.9,151.0 261.8,150.1 267.8,149.9 273.7,150.8 279.7,149.7 285.7,147.0 291.6,142.4 297.6,138.1 303.5,134.0 309.5,131.3 315.4,131.0 321.4,131.6 327.4,129.3 333.3,122.3 339.3,116.9 345.2,116.1 351.2,117.5 357.1,115.0 363.1,111.3 369.1,111.3 375.0,114.5 381.0,121.1 386.9,126.8 392.9,131.9 398.8,131.0 404.8,129.1 410.8,133.8 416.7,141.2 422.7,146.9 428.6,149.4 434.6,160.0 440.5,173.9 446.5,184.6 452.5,191.4 458.4,200.5 464.4,206.5 470.3,205.6 476.3,198.2 482.2,193.9 488.2,188.8 494.2,183.7 500.1,177.2 506.1,174.4 512.0,170.0 518.0,166.3 523.9,164.5 529.9,164.6 535.9,162.4 541.8,157.6 547.8,158.5 553.7,164.1 559.7,166.9 565.6,167.5 571.6,162.3 577.6,159.0 583.5,153.9 589.5,149.8 595.4,145.8 601.4,139.5 607.3,135.7 613.3,131.0 619.3,129.2 625.2,128.8 631.2,132.2 637.1,137.1 643.1,144.8 649.0,145.8 655.0,143.6 660.9,136.9 666.9,133.4 672.9,128.7 678.8,123.6 684.8,120.6 690.7,123.5 696.7,125.2 702.6,126.2 708.6,122.7 714.6,119.8 720.5,119.3 726.5,119.7 732.4,121.4 738.4,117.5 744.3,112.2 750.3,104.6 756.3,99.6 762.2,94.1 768.2,92.4 774.1,89.0 780.1,90.6 786.0,89.5 792.0,89.2 798.0,82.7 803.9,75.2 809.9,74.4 815.8,73.2 821.8,73.8 827.7,69.3 833.7,67.3 839.7,65.4 845.6,65.5 851.6,63.5 857.5,62.4 863.5,58.1 869.4,54.4 875.4,50.4 881.4,51.5 887.3,50.0 893.3,50.2 899.2,46.7 905.2,47.4 911.1,48.2 917.1,48.9 923.1,56.6 929.0,63.2" fill="none" stroke="#8a1a1a" stroke-width="1" stroke-linejoin="round"/>
<path d="M862.2 234.9L862.6 232.5L863.4 232.3L863.5 229.3L864.0 232.5L864.8 232.9L865.0 234.9" fill="none" stroke="#f23cb8" stroke-width="0.75"/>
<path d="M897.9 234.9L898.3 232.5L899.1 232.3L899.2 229.3L899.7 232.5L900.5 232.9L900.7 234.9" fill="none" stroke="#2cd4d4" stroke-width="0.75"/>
<path d="M915.8 234.9L916.2 232.5L917.0 232.3L917.1 229.3L917.6 232.5L918.4 232.9L918.6 234.9" fill="none" stroke="#8a3030" stroke-width="0.75"/>
<polyline points="5.7,294.6 11.6,291.0 17.6,287.6 23.6,286.5 29.5,283.7 35.5,283.0 41.4,281.6 47.4,283.0 53.3,284.6 59.3,286.9 65.2,288.3 71.2,288.3 77.2,286.4 83.1,285.3 89.1,286.4 95.0,286.2 101.0,283.3 106.9,282.4 112.9,283.3 118.9,278.2 124.8,274.6 130.8,270.1 136.7,267.3 142.7,267.5 148.6,265.9 154.6,263.5 160.6,265.2 166.5,266.4 172.5,268.4 178.4,268.2 184.4,266.2 190.3,269.6 196.3,270.9 202.3,274.1 208.2,276.7 214.2,275.7 220.1,277.3 226.1,279.6 232.0,276.0 238.0,274.1 244.0,272.6 249.9,273.4 255.9,272.1 261.8,270.0 267.8,269.1 273.7,266.9 279.7,264.6 285.7,264.4 291.6,265.5 297.6,263.5 303.5,268.4 309.5,267.5 315.4,269.1 321.4,269.1 327.4,271.9 333.3,273.7 339.3,275.1 345.2,276.6 351.2,278.2 357.1,277.3 363.1,278.2 369.1,277.1 375.0,273.7 381.0,270.7 386.9,268.2 392.9,272.6 398.8,266.9 404.8,265.2 410.8,263.9 416.7,261.6 422.7,260.9 428.6,265.7 434.6,270.1 440.5,275.0 446.5,282.1 452.5,288.7 458.4,291.9 464.4,293.7 470.3,304.0 476.3,307.9 482.2,314.2 488.2,319.9 494.2,324.0 500.1,325.8 506.1,321.3 512.0,316.3 518.0,313.6 523.9,311.5 529.9,313.8 535.9,307.4 541.8,302.7 547.8,299.2 553.7,294.0 559.7,286.7 565.6,280.1 571.6,273.0 577.6,265.5 583.5,269.9 589.5,263.7 595.4,260.5 601.4,257.8 607.3,255.9 613.3,255.0 619.3,251.8 625.2,250.5 631.2,252.5 637.1,254.3 643.1,261.0 649.0,266.4 655.0,265.3 660.9,265.5 666.9,267.6 672.9,266.9 678.8,269.4 684.8,268.3 690.7,273.0 696.7,274.9 702.6,275.1 708.6,275.1 714.6,270.7 720.5,273.3 726.5,273.5 732.4,276.5 738.4,274.9 744.3,282.4 750.3,282.4 756.3,284.7 762.2,286.3 768.2,286.5 774.1,287.8 780.1,287.1 786.0,287.8 792.0,285.6 798.0,284.4 803.9,283.1 809.9,284.0 815.8,267.1 821.8,263.7 827.7,261.9 833.7,258.5 839.7,258.5 845.6,257.6 851.6,270.5 857.5,271.6 863.5,273.0 869.4,272.1 875.4,273.3 881.4,263.2 887.3,275.1 893.3,277.4 899.2,279.6 905.2,278.7 911.1,277.3 917.1,278.3" fill="none" stroke="#ff4848" stroke-width="0.98" stroke-linejoin="round"/>
<polyline points="5.7,378.5 11.6,376.4 17.6,378.0 23.6,376.4 29.5,378.0 35.5,375.5 41.4,382.6 47.4,385.3 53.3,383.5 59.3,381.6 65.2,384.4 71.2,383.0 77.2,379.4 83.1,380.3 89.1,375.5 95.0,378.5 101.0,373.7 106.9,367.8 112.9,363.0 118.9,361.2 124.8,364.3 130.8,366.2 136.7,363.2 142.7,364.3 148.6,366.2 154.6,365.2 160.6,365.2 166.5,362.1 172.5,367.5 178.4,375.9 184.4,372.5 190.3,374.1 196.3,374.1 202.3,371.9 208.2,371.9 214.2,366.6 220.1,364.3 226.1,369.6 232.0,368.2 238.0,368.2 244.0,368.2 249.9,367.3 255.9,368.2 261.8,363.6 267.8,362.1 273.7,362.7 279.7,363.6 285.7,372.3 291.6,376.9 297.6,374.1 303.5,372.5 309.5,380.8 315.4,377.8 321.4,375.5 327.4,374.6 333.3,376.0 339.3,377.8 345.2,378.5 351.2,377.6 357.1,371.0 363.1,366.6 369.1,361.8 375.0,367.5 381.0,355.3 386.9,366.9 392.9,366.1 398.8,366.9 404.8,365.7 410.8,362.7 416.7,365.7 422.7,372.8 428.6,381.4 434.6,393.3 440.5,414.7 446.5,421.0 452.5,429.3 458.4,427.2 464.4,434.3 470.3,435.6 476.3,436.5 482.2,437.5 488.2,434.3 494.2,429.9 500.1,423.6 506.1,413.5 512.0,393.3 518.0,383.0 523.9,375.0 529.9,372.1 535.9,362.5 541.8,360.0 547.8,362.5 553.7,365.3 559.7,365.3 565.6,366.0 571.6,366.8 577.6,361.1 583.5,366.6 589.5,366.6 595.4,363.5 601.4,363.5 607.3,360.7 613.3,362.1 619.3,363.0 625.2,360.0 631.2,362.5 637.1,360.0 643.1,362.5 649.0,368.7 655.0,372.1 660.9,369.6 666.9,374.6 672.9,371.6 678.8,377.5 684.8,376.4 690.7,378.5 696.7,383.0 702.6,383.9 708.6,385.3 714.6,380.3 720.5,384.4 726.5,378.5 732.4,382.1 738.4,383.3 744.3,381.6 750.3,385.8 756.3,387.4 762.2,380.7 768.2,377.8 774.1,377.8 780.1,377.8 786.0,380.7 792.0,375.5 798.0,378.5 803.9,377.1 809.9,378.3 815.8,375.3 821.8,367.5 827.7,366.4 833.7,368.7 839.7,369.6 845.6,368.5 851.6,377.6 857.5,379.6 863.5,382.1 869.4,385.3 875.4,388.3 881.4,386.5 887.3,393.7 893.3,398.7 899.2,397.2 905.2,398.0 911.1,397.2 917.1,398.5" fill="none" stroke="#ff4848" stroke-width="0.98" stroke-linejoin="round"/>
<rect x="1.8" y="21.4" width="948.8000000000001" height="214.1" fill="none" stroke="#ff4cff" stroke-width="1.3"/>
<path d="M1.8 238.6V344.4H950.6V238.6" fill="none" stroke="#b3a294" stroke-width="1.05"/>
<path d="M1.8 347.20000000000005V454.1H950.6V347.20000000000005" fill="none" stroke="#b3a294" stroke-width="1.05"/>
<path d="M1.3 238.1H951.1" fill="none" stroke="#cdc6bc" stroke-width="1.6"/>
<path d="M1.3 346.6H951.1" fill="none" stroke="#b9aa9e" stroke-width="1.1"/>
<path d="M5.68 234.7V238.8M5.68 343.59999999999997V347.40000000000003" stroke="#8a8a8a" stroke-width="0.8" stroke-dasharray="1.2 1" fill="none" opacity="0.7"/>
<path d="M95.03 234.7V238.8M95.03 343.59999999999997V347.40000000000003" stroke="#8a8a8a" stroke-width="0.8" stroke-dasharray="1.2 1" fill="none" opacity="0.7"/>
<path d="M166.52 234.7V238.8M166.52 343.59999999999997V347.40000000000003" stroke="#8a8a8a" stroke-width="0.8" stroke-dasharray="1.2 1" fill="none" opacity="0.7"/>
<path d="M238.00 234.7V238.8M238.00 343.59999999999997V347.40000000000003" stroke="#8a8a8a" stroke-width="0.8" stroke-dasharray="1.2 1" fill="none" opacity="0.7"/>
<path d="M309.49 234.7V238.8M309.49 343.59999999999997V347.40000000000003" stroke="#8a8a8a" stroke-width="0.8" stroke-dasharray="1.2 1" fill="none" opacity="0.7"/>
<path d="M380.97 234.7V238.8M380.97 343.59999999999997V347.40000000000003" stroke="#8a8a8a" stroke-width="0.8" stroke-dasharray="1.2 1" fill="none" opacity="0.7"/>
<path d="M452.45 234.7V238.8M452.45 343.59999999999997V347.40000000000003" stroke="#8a8a8a" stroke-width="0.8" stroke-dasharray="1.2 1" fill="none" opacity="0.7"/>
<path d="M523.94 234.7V238.8M523.94 343.59999999999997V347.40000000000003" stroke="#8a8a8a" stroke-width="0.8" stroke-dasharray="1.2 1" fill="none" opacity="0.7"/>
<path d="M595.42 234.7V238.8M595.42 343.59999999999997V347.40000000000003" stroke="#8a8a8a" stroke-width="0.8" stroke-dasharray="1.2 1" fill="none" opacity="0.7"/>
<path d="M666.91 234.7V238.8M666.91 343.59999999999997V347.40000000000003" stroke="#8a8a8a" stroke-width="0.8" stroke-dasharray="1.2 1" fill="none" opacity="0.7"/>
<path d="M738.39 234.7V238.8M738.39 343.59999999999997V347.40000000000003" stroke="#8a8a8a" stroke-width="0.8" stroke-dasharray="1.2 1" fill="none" opacity="0.7"/>
<path d="M809.87 234.7V238.8M809.87 343.59999999999997V347.40000000000003" stroke="#8a8a8a" stroke-width="0.8" stroke-dasharray="1.2 1" fill="none" opacity="0.7"/>
<path d="M881.36 234.7V238.8M881.36 343.59999999999997V347.40000000000003" stroke="#8a8a8a" stroke-width="0.8" stroke-dasharray="1.2 1" fill="none" opacity="0.7"/>
<text x="0.5" y="14.1" font-family="'Liberation Serif', 'Noto Serif CJK SC', serif" font-size="13.9" font-weight="bold" fill="#000" textLength="55.8" lengthAdjust="spacingAndGlyphs" xml:space="preserve">道瓊指數</text>
<text x="56.8" y="14.1" font-family="'Liberation Serif', sans-serif" font-size="13.9" font-weight="normal" fill="#111" stroke="#111" stroke-width="0.2" stroke-linejoin="round" textLength="30.0" lengthAdjust="spacingAndGlyphs" xml:space="preserve">(DJI)</text>
<text x="109.9" y="14.1" font-family="'Liberation Serif', 'Noto Serif CJK SC', serif" font-size="13.9" font-weight="bold" fill="#000" textLength="41.6" lengthAdjust="spacingAndGlyphs" xml:space="preserve">月線圖</text>
<text x="162.3" y="15.3" font-family="'Liberation Sans', sans-serif" font-size="13.8" font-weight="bold" fill="#000" stroke="#000" stroke-width="0.3" stroke-linejoin="round" textLength="92.2" lengthAdjust="spacingAndGlyphs" xml:space="preserve">2015/09/10</text>
<text x="266.4" y="14.1" font-family="'Liberation Serif', 'Noto Serif CJK SC', serif" font-size="13.9" font-weight="bold" fill="#000" xml:space="preserve">開</text>
<text x="287.2" y="15.3" font-family="'Liberation Sans', sans-serif" font-size="13.8" font-weight="bold" fill="#000" stroke="#000" stroke-width="0.3" stroke-linejoin="round" textLength="70.2" lengthAdjust="spacingAndGlyphs" xml:space="preserve">16528.03</text>
<text x="368.4" y="14.1" font-family="'Liberation Serif', 'Noto Serif CJK SC', serif" font-size="13.9" font-weight="bold" fill="#000" xml:space="preserve">高</text>
<text x="388.2" y="15.3" font-family="'Liberation Sans', sans-serif" font-size="13.8" font-weight="bold" fill="#000" stroke="#000" stroke-width="0.3" stroke-linejoin="round" textLength="70.6" lengthAdjust="spacingAndGlyphs" xml:space="preserve">16664.65</text>
<text x="469.1" y="14.1" font-family="'Liberation Serif', 'Noto Serif CJK SC', serif" font-size="13.9" font-weight="bold" fill="#000" xml:space="preserve">低</text>
<text x="489.3" y="15.3" font-family="'Liberation Sans', sans-serif" font-size="13.8" font-weight="bold" fill="#000" stroke="#000" stroke-width="0.3" stroke-linejoin="round" textLength="70.2" lengthAdjust="spacingAndGlyphs" xml:space="preserve">15979.95</text>
<text x="570.8" y="14.1" font-family="'Liberation Serif', 'Noto Serif CJK SC', serif" font-size="13.9" font-weight="bold" fill="#000" xml:space="preserve">收</text>
<text x="590.8" y="15.3" font-family="'Liberation Sans', sans-serif" font-size="13.8" font-weight="bold" fill="#000" stroke="#000" stroke-width="0.3" stroke-linejoin="round" textLength="83.7" lengthAdjust="spacingAndGlyphs" xml:space="preserve">16330.40 s</text>
<text x="688.8" y="14.1" font-family="'Liberation Serif', 'Noto Serif CJK SC', serif" font-size="13.9" font-weight="bold" fill="#000" xml:space="preserve">量</text>
<text x="708.2" y="15.3" font-family="'Liberation Sans', sans-serif" font-size="13.8" font-weight="bold" fill="#000" stroke="#000" stroke-width="0.3" stroke-linejoin="round" textLength="39.6" lengthAdjust="spacingAndGlyphs" xml:space="preserve">907M</text>
<text x="764.4" y="15.3" font-family="'Liberation Sans', sans-serif" font-size="13.8" font-weight="bold" fill="#000" stroke="#000" stroke-width="0.3" stroke-linejoin="round" textLength="135.2" lengthAdjust="spacingAndGlyphs" xml:space="preserve">-197.63 (-1.20%)</text>
<text x="3.2" y="33.6" font-family="'Liberation Sans', sans-serif" font-size="11.8" font-weight="bold" fill="#8c1010" stroke="#8c1010" stroke-width="0.3" stroke-linejoin="round" textLength="99.3" lengthAdjust="spacingAndGlyphs" xml:space="preserve">SMA3 16849.43</text>
<path d="M108.3 24.8h2v4.2h2.7l-3.7 4.4l-3.7 -4.4h2.7z" fill="#0a8a0a"/>
<text x="131.3" y="33.6" font-family="'Liberation Sans', sans-serif" font-size="11.8" font-weight="bold" fill="#22cfcf" stroke="#22cfcf" stroke-width="0.3" stroke-linejoin="round" textLength="100.0" lengthAdjust="spacingAndGlyphs" xml:space="preserve">SMA6 17336.50</text>
<path d="M236.7 24.8h2v4.2h2.7l-3.7 4.4l-3.7 -4.4h2.7z" fill="#0a8a0a"/>
<text x="259.2" y="33.6" font-family="'Liberation Sans', sans-serif" font-size="11.8" font-weight="bold" fill="#f0148c" stroke="#f0148c" stroke-width="0.3" stroke-linejoin="round" textLength="108.6" lengthAdjust="spacingAndGlyphs" xml:space="preserve">SMA12 17511.22</text>
<path d="M373.09999999999997 24.8h2v4.2h2.7l-3.7 4.4l-3.7 -4.4h2.7z" fill="#0a8a0a"/>
<text x="953.6" y="45.4" font-family="'Liberation Sans', sans-serif" font-size="11.8" font-weight="bold" fill="#000" stroke="#000" stroke-width="0.3" stroke-linejoin="round" textLength="39.3" lengthAdjust="spacingAndGlyphs" xml:space="preserve">18275</text>
<text x="953.6" y="62.0" font-family="'Liberation Sans', sans-serif" font-size="11.8" font-weight="bold" fill="#000" stroke="#000" stroke-width="0.3" stroke-linejoin="round" textLength="39.3" lengthAdjust="spacingAndGlyphs" xml:space="preserve">17200</text>
<text x="953.6" y="78.6" font-family="'Liberation Sans', sans-serif" font-size="11.8" font-weight="bold" fill="#000" stroke="#000" stroke-width="0.3" stroke-linejoin="round" textLength="39.3" lengthAdjust="spacingAndGlyphs" xml:space="preserve">16125</text>
<text x="953.6" y="95.1" font-family="'Liberation Sans', sans-serif" font-size="11.8" font-weight="bold" fill="#000" stroke="#000" stroke-width="0.3" stroke-linejoin="round" textLength="39.3" lengthAdjust="spacingAndGlyphs" xml:space="preserve">15050</text>
<text x="953.6" y="111.7" font-family="'Liberation Sans', sans-serif" font-size="11.8" font-weight="bold" fill="#000" stroke="#000" stroke-width="0.3" stroke-linejoin="round" textLength="39.3" lengthAdjust="spacingAndGlyphs" xml:space="preserve">13975</text>
<text x="953.6" y="128.3" font-family="'Liberation Sans', sans-serif" font-size="11.8" font-weight="bold" fill="#000" stroke="#000" stroke-width="0.3" stroke-linejoin="round" textLength="39.3" lengthAdjust="spacingAndGlyphs" xml:space="preserve">12900</text>
<text x="953.6" y="144.9" font-family="'Liberation Sans', sans-serif" font-size="11.8" font-weight="bold" fill="#000" stroke="#000" stroke-width="0.3" stroke-linejoin="round" textLength="39.3" lengthAdjust="spacingAndGlyphs" xml:space="preserve">11825</text>
<text x="953.6" y="161.5" font-family="'Liberation Sans', sans-serif" font-size="11.8" font-weight="bold" fill="#000" stroke="#000" stroke-width="0.3" stroke-linejoin="round" textLength="39.3" lengthAdjust="spacingAndGlyphs" xml:space="preserve">10750</text>
<text x="953.6" y="178.0" font-family="'Liberation Sans', sans-serif" font-size="11.8" font-weight="bold" fill="#000" stroke="#000" stroke-width="0.3" stroke-linejoin="round" textLength="31.4" lengthAdjust="spacingAndGlyphs" xml:space="preserve">9675</text>
<text x="953.6" y="194.6" font-family="'Liberation Sans', sans-serif" font-size="11.8" font-weight="bold" fill="#000" stroke="#000" stroke-width="0.3" stroke-linejoin="round" textLength="31.4" lengthAdjust="spacingAndGlyphs" xml:space="preserve">8600</text>
<text x="953.6" y="211.2" font-family="'Liberation Sans', sans-serif" font-size="11.8" font-weight="bold" fill="#000" stroke="#000" stroke-width="0.3" stroke-linejoin="round" textLength="31.4" lengthAdjust="spacingAndGlyphs" xml:space="preserve">7525</text>
<text x="953.6" y="227.8" font-family="'Liberation Sans', sans-serif" font-size="11.8" font-weight="bold" fill="#000" stroke="#000" stroke-width="0.3" stroke-linejoin="round" textLength="31.4" lengthAdjust="spacingAndGlyphs" xml:space="preserve">6450</text>
<text x="953.2" y="268.8" font-family="'Liberation Sans', sans-serif" font-size="11.8" font-weight="bold" fill="#000" stroke="#000" stroke-width="0.3" stroke-linejoin="round" textLength="15.5" lengthAdjust="spacingAndGlyphs" xml:space="preserve">10</text>
<text x="953.2" y="295.6" font-family="'Liberation Sans', sans-serif" font-size="11.8" font-weight="bold" fill="#000" stroke="#000" stroke-width="0.3" stroke-linejoin="round" textLength="7.4" lengthAdjust="spacingAndGlyphs" xml:space="preserve">0</text>
<text x="953.2" y="322.3" font-family="'Liberation Sans', sans-serif" font-size="11.8" font-weight="bold" fill="#000" stroke="#000" stroke-width="0.3" stroke-linejoin="round" textLength="20.3" lengthAdjust="spacingAndGlyphs" xml:space="preserve">-10</text>
<text x="953.2" y="372.4" font-family="'Liberation Sans', sans-serif" font-size="11.8" font-weight="bold" fill="#000" stroke="#000" stroke-width="0.3" stroke-linejoin="round" textLength="15.5" lengthAdjust="spacingAndGlyphs" xml:space="preserve">10</text>
<text x="953.2" y="394.0" font-family="'Liberation Sans', sans-serif" font-size="11.8" font-weight="bold" fill="#000" stroke="#000" stroke-width="0.3" stroke-linejoin="round" textLength="7.4" lengthAdjust="spacingAndGlyphs" xml:space="preserve">0</text>
<text x="953.2" y="415.6" font-family="'Liberation Sans', sans-serif" font-size="11.8" font-weight="bold" fill="#000" stroke="#000" stroke-width="0.3" stroke-linejoin="round" textLength="20.3" lengthAdjust="spacingAndGlyphs" xml:space="preserve">-10</text>
<text x="953.2" y="437.1" font-family="'Liberation Sans', sans-serif" font-size="11.8" font-weight="bold" fill="#000" stroke="#000" stroke-width="0.3" stroke-linejoin="round" textLength="20.3" lengthAdjust="spacingAndGlyphs" xml:space="preserve">-20</text>
<text x="2.4" y="248.8" font-family="'Liberation Serif', 'Noto Serif CJK SC', serif" font-size="11.2" font-weight="bold" fill="#111" textLength="44.9" lengthAdjust="spacingAndGlyphs" xml:space="preserve">經濟指標</text>
<text x="63.6" y="249.6" font-family="'Liberation Sans', 'Noto Sans CJK TC', sans-serif" font-size="11.2" font-weight="normal" fill="#ff2828" textLength="101.0" lengthAdjust="spacingAndGlyphs" xml:space="preserve">美國躉售存貨年增率</text>
<text x="168.4" y="250.4" font-family="'Liberation Sans', sans-serif" font-size="11.6" font-weight="bold" fill="#ff1010" stroke="#ff1010" stroke-width="0.3" stroke-linejoin="round" textLength="8.8" lengthAdjust="spacingAndGlyphs" xml:space="preserve">N</text>
<path d="M178.4 252.0L183.0 241.4" stroke="#ff1010" stroke-width="1.9" fill="none"/>
<text x="184.0" y="250.4" font-family="'Liberation Sans', sans-serif" font-size="11.6" font-weight="bold" fill="#ff1010" stroke="#ff1010" stroke-width="0.3" stroke-linejoin="round" textLength="9.4" lengthAdjust="spacingAndGlyphs" xml:space="preserve">A</text>
<text x="2.4" y="357.7" font-family="'Liberation Serif', 'Noto Serif CJK SC', serif" font-size="11.2" font-weight="bold" fill="#111" textLength="44.9" lengthAdjust="spacingAndGlyphs" xml:space="preserve">經濟指標</text>
<text x="68.3" y="359.2" font-family="'Liberation Sans', sans-serif" font-size="11.6" font-weight="bold" fill="#ff1010" stroke="#ff1010" stroke-width="0.3" stroke-linejoin="round" textLength="8.8" lengthAdjust="spacingAndGlyphs" xml:space="preserve">N</text>
<path d="M78.3 360.8L82.89999999999999 350.2" stroke="#ff1010" stroke-width="1.9" fill="none"/>
<text x="83.89999999999999" y="359.2" font-family="'Liberation Sans', sans-serif" font-size="11.6" font-weight="bold" fill="#ff1010" stroke="#ff1010" stroke-width="0.3" stroke-linejoin="round" textLength="9.4" lengthAdjust="spacingAndGlyphs" xml:space="preserve">A</text>
<path d="M5.68 454.1V461.6" stroke="#8a8886" stroke-width="1"/>
<path d="M95.03 454.1V461.6" stroke="#8a8886" stroke-width="1"/>
<path d="M166.52 454.1V461.6" stroke="#8a8886" stroke-width="1"/>
<path d="M238.00 454.1V461.6" stroke="#8a8886" stroke-width="1"/>
<path d="M309.49 454.1V461.6" stroke="#8a8886" stroke-width="1"/>
<path d="M380.97 454.1V461.6" stroke="#8a8886" stroke-width="1"/>
<path d="M452.45 454.1V461.6" stroke="#8a8886" stroke-width="1"/>
<path d="M523.94 454.1V461.6" stroke="#8a8886" stroke-width="1"/>
<path d="M595.42 454.1V461.6" stroke="#8a8886" stroke-width="1"/>
<path d="M666.91 454.1V461.6" stroke="#8a8886" stroke-width="1"/>
<path d="M738.39 454.1V461.6" stroke="#8a8886" stroke-width="1"/>
<path d="M809.87 454.1V461.6" stroke="#8a8886" stroke-width="1"/>
<path d="M881.36 454.1V461.6" stroke="#8a8886" stroke-width="1"/>
<text x="2.8" y="474.8" font-family="'Liberation Sans', sans-serif" font-size="12.3" font-weight="normal" fill="#888888" stroke="#888888" stroke-width="0.2" stroke-linejoin="round" textLength="48.5" lengthAdjust="spacingAndGlyphs" xml:space="preserve">2002/10</text>
<text x="93.5" y="474.8" font-family="'Liberation Sans', sans-serif" font-size="12.3" font-weight="normal" fill="#888888" stroke="#888888" stroke-width="0.2" stroke-linejoin="round" textLength="28.6" lengthAdjust="spacingAndGlyphs" text-anchor="middle" xml:space="preserve">2004</text>
<text x="165.0" y="474.8" font-family="'Liberation Sans', sans-serif" font-size="12.3" font-weight="normal" fill="#888888" stroke="#888888" stroke-width="0.2" stroke-linejoin="round" textLength="28.6" lengthAdjust="spacingAndGlyphs" text-anchor="middle" xml:space="preserve">2005</text>
<text x="236.5" y="474.8" font-family="'Liberation Sans', sans-serif" font-size="12.3" font-weight="normal" fill="#888888" stroke="#888888" stroke-width="0.2" stroke-linejoin="round" textLength="28.6" lengthAdjust="spacingAndGlyphs" text-anchor="middle" xml:space="preserve">2006</text>
<text x="308.0" y="474.8" font-family="'Liberation Sans', sans-serif" font-size="12.3" font-weight="normal" fill="#888888" stroke="#888888" stroke-width="0.2" stroke-linejoin="round" textLength="28.6" lengthAdjust="spacingAndGlyphs" text-anchor="middle" xml:space="preserve">2007</text>
<text x="379.5" y="474.8" font-family="'Liberation Sans', sans-serif" font-size="12.3" font-weight="normal" fill="#888888" stroke="#888888" stroke-width="0.2" stroke-linejoin="round" textLength="28.6" lengthAdjust="spacingAndGlyphs" text-anchor="middle" xml:space="preserve">2008</text>
<text x="451.0" y="474.8" font-family="'Liberation Sans', sans-serif" font-size="12.3" font-weight="normal" fill="#888888" stroke="#888888" stroke-width="0.2" stroke-linejoin="round" textLength="28.6" lengthAdjust="spacingAndGlyphs" text-anchor="middle" xml:space="preserve">2009</text>
<text x="522.4" y="474.8" font-family="'Liberation Sans', sans-serif" font-size="12.3" font-weight="normal" fill="#888888" stroke="#888888" stroke-width="0.2" stroke-linejoin="round" textLength="28.6" lengthAdjust="spacingAndGlyphs" text-anchor="middle" xml:space="preserve">2010</text>
<text x="593.9" y="474.8" font-family="'Liberation Sans', sans-serif" font-size="12.3" font-weight="normal" fill="#888888" stroke="#888888" stroke-width="0.2" stroke-linejoin="round" textLength="28.6" lengthAdjust="spacingAndGlyphs" text-anchor="middle" xml:space="preserve">2011</text>
<text x="665.4" y="474.8" font-family="'Liberation Sans', sans-serif" font-size="12.3" font-weight="normal" fill="#888888" stroke="#888888" stroke-width="0.2" stroke-linejoin="round" textLength="28.6" lengthAdjust="spacingAndGlyphs" text-anchor="middle" xml:space="preserve">2012</text>
<text x="736.9" y="474.8" font-family="'Liberation Sans', sans-serif" font-size="12.3" font-weight="normal" fill="#888888" stroke="#888888" stroke-width="0.2" stroke-linejoin="round" textLength="28.6" lengthAdjust="spacingAndGlyphs" text-anchor="middle" xml:space="preserve">2013</text>
<text x="808.4" y="474.8" font-family="'Liberation Sans', sans-serif" font-size="12.3" font-weight="normal" fill="#888888" stroke="#888888" stroke-width="0.2" stroke-linejoin="round" textLength="28.6" lengthAdjust="spacingAndGlyphs" text-anchor="middle" xml:space="preserve">2014</text>
<text x="879.9" y="474.8" font-family="'Liberation Sans', sans-serif" font-size="12.3" font-weight="normal" fill="#888888" stroke="#888888" stroke-width="0.2" stroke-linejoin="round" textLength="28.6" lengthAdjust="spacingAndGlyphs" text-anchor="middle" xml:space="preserve">2015</text>
<rect x="0" y="491.3" width="1024" height="11.699999999999989" fill="#f1f2f1"/>
<rect x="0" y="491.3" width="57.4" height="11.699999999999989" fill="#fff"/>
<rect x="70" y="491.3" width="56.4" height="11.699999999999989" fill="#fff"/>
<rect x="0" y="491.1" width="57.4" height="0.9" fill="#cfcfcf"/>
<rect x="70" y="491.1" width="56.4" height="0.9" fill="#cfcfcf"/>
<text x="1.2" y="500.5" font-family="'Liberation Sans', sans-serif" font-size="9.6" font-weight="normal" fill="#111" stroke="#111" stroke-width="0.25" stroke-linejoin="round" textLength="38.8" lengthAdjust="spacingAndGlyphs" xml:space="preserve">2002/10/31</text>
<text x="71.4" y="500.5" font-family="'Liberation Sans', sans-serif" font-size="9.6" font-weight="normal" fill="#111" stroke="#111" stroke-width="0.25" stroke-linejoin="round" textLength="38.8" lengthAdjust="spacingAndGlyphs" xml:space="preserve">2015/09/10</text>
<rect x="42.0" y="491.8" width="13" height="8.8" fill="#ececec"/>
<path d="M42.0 492.1H54.5" stroke="#c4c4c4" stroke-width="0.8" fill="none"/>
<path d="M54.6 491.90000000000003V500.3H42.4" stroke="#6a6a6a" stroke-width="1.1" fill="none"/>
<path d="M45.7 494.5h4.6l-2.3 2.4z" fill="#000"/>
<rect x="112.6" y="491.8" width="13" height="8.8" fill="#ececec"/>
<path d="M112.6 492.1H125.1" stroke="#c4c4c4" stroke-width="0.8" fill="none"/>
<path d="M125.19999999999999 491.90000000000003V500.3H113.0" stroke="#6a6a6a" stroke-width="1.1" fill="none"/>
<path d="M116.3 494.5h4.6l-2.3 2.4z" fill="#000"/>
<path d="M61 499.1c1.2 -2.3 2.3 -2.3 3.2 -0.8s2 1.5 3 -0.8" stroke="#444a5a" stroke-width="1.0" fill="none"/>
<rect x="128.4" y="498.1" width="4" height="4.9" fill="#c8c8c8"/>
<rect x="128.4" y="491.8" width="10" height="6.5" fill="#18c4f4"/>
<text x="129.3" y="497.3" font-family="'Liberation Sans', sans-serif" font-size="5.8" font-weight="bold" fill="#1038d8" stroke="#1038d8" stroke-width="0.3" textLength="8.2" lengthAdjust="spacingAndGlyphs">GO</text>
<path d="M130.8 496.5l2.6 0.2l2.4 0.6l3.2 1.6l0.6 4.2h-4.6l-1.6 -2.6z" fill="#e8c080"/>
<path d="M130.8 496.7l2.8 3.6l1.4 2.6" stroke="#a06828" stroke-width="0.8" fill="none"/>
<text x="142.4" y="501.0" font-family="'Liberation Sans', 'Noto Sans CJK TC', sans-serif" font-size="8.8" font-weight="bold" fill="#000" textLength="35.2" lengthAdjust="spacingAndGlyphs" xml:space="preserve">保留空間</text>
<rect x="178.8" y="491.3" width="24" height="11.699999999999989" fill="#fff"/>
<text x="180.8" y="499" font-family="'Liberation Sans', sans-serif" font-size="9" font-style="italic" fill="#222" textLength="4.3" lengthAdjust="spacingAndGlyphs">3</text>
<rect x="202.9" y="492.0" width="10" height="10.6" fill="#f6f6f6"/>
<path d="M202.9 492.40000000000003h10M202.9 496.6h10M202.9 501.40000000000003h10M212.5 492.1v9.6" stroke="#848484" stroke-width="0.9" fill="none"/>
<path d="M207 494.7h1.2M207 499.0h1.2" stroke="#222" stroke-width="0.9"/>
<rect x="215.2" y="498.1" width="4" height="4.9" fill="#c8c8c8"/>
<rect x="215.2" y="491.8" width="10" height="6.5" fill="#18c4f4"/>
<text x="216.1" y="497.3" font-family="'Liberation Sans', sans-serif" font-size="5.8" font-weight="bold" fill="#1038d8" stroke="#1038d8" stroke-width="0.3" textLength="8.2" lengthAdjust="spacingAndGlyphs">GO</text>
<path d="M217.6 496.5l2.6 0.2l2.4 0.6l3.2 1.6l0.6 4.2h-4.6l-1.6 -2.6z" fill="#e8c080"/>
<path d="M217.6 496.7l2.8 3.6l1.4 2.6" stroke="#a06828" stroke-width="0.8" fill="none"/>
<rect x="226.3" y="491.3" width="796" height="11.699999999999989" fill="#cecece"/>
<rect x="237.5" y="491.3" width="492" height="11.699999999999989" fill="#e5e6e7"/>
<rect x="237.5" y="491.2" width="492" height="0.9" fill="#d9d9d9"/>
<rect x="729.3" y="491.5" width="198.4" height="11.49999999999999" fill="#cdcdcd"/>
<path d="M729.8 503V492.5q0 -0.6 0.6 -0.6H927q0.6 0 0.6 0.6V503" stroke="#b6b6b6" stroke-width="0.9" fill="none"/>
<rect x="226.5" y="491.7" width="11" height="11.299999999999988" fill="#d4d4d4"/>
<path d="M237.4 491.8V503" stroke="#b4b4b4" stroke-width="0.9"/>
<rect x="928" y="491.7" width="11.4" height="11.299999999999988" fill="#d6d6d6"/>
<path d="M928.1 491.8V503M939.4 491.8V503" stroke="#b4b4b4" stroke-width="0.9"/>
<path d="M233.6 495.0l-3.8 2.8l3.8 2.9" stroke="#1c1c1c" stroke-width="1.5" fill="none"/>
<path d="M932.2 495.0l3.8 2.8l-3.8 2.9" stroke="#1c1c1c" stroke-width="1.5" fill="none"/>
<text x="820.2" y="501.2" font-family="'Liberation Sans', sans-serif" font-size="10.4" font-weight="bold" fill="#000" stroke="#000" stroke-width="0.3" stroke-linejoin="round" textLength="16.6" lengthAdjust="spacingAndGlyphs" xml:space="preserve">156</text>
<rect x="939.8" y="491.7" width="12.6" height="11.299999999999988" fill="#d8d8d8"/>
<rect x="940.7" y="492.1" width="6" height="10.4" fill="#fbfbfb"/>
<path d="M941.2 494.3h4.2M941.2 496.5h4.2M941.2 498.7h4.2M941.2 500.90000000000003h4.2" stroke="#30c0c0" stroke-width="0.8"/>
<path d="M946.2 493.0v8.4l2 -1.9l1.9 3.6l1.5 -0.8l-1.9 -3.5l2.9 -0.2z" fill="#0824e0"/>
<rect x="952.4" y="492.2" width="10.6" height="10.9" rx="0.8" fill="#e64444"/>
<rect x="954.3" y="494.2" width="6.9" height="7.3" rx="0.6" fill="#fff6cc"/>
<path d="M957.6 495.3v3.2h1.6" stroke="#554" stroke-width="0.8" fill="none"/>
<g stroke="#2438f0" fill="none">
<path d="M964.9 493.1l2.6 2.6M974.3 493.1l-2.6 2.6M964.9 502.3l2.6 -2.6M974.3 502.3l-2.6 -2.6" stroke-width="1.3" stroke-dasharray="1.5 0.9"/>
<rect x="968.4999999999999" y="496.5" width="2.2" height="2.2" stroke-width="1.1"/>
</g>
<g stroke="#2438f0" fill="none">
<path d="M976.8000000000001 493.1l2.6 2.6M986.2 493.1l-2.6 2.6M976.8000000000001 502.3l2.6 -2.6M986.2 502.3l-2.6 -2.6" stroke-width="1.3" stroke-dasharray="1.5 0.9"/>
<rect x="979.2" y="495.3" width="4.6" height="4.6" stroke-width="1.1"/>
</g>
<path d="M992.6 496.2c2.4 -1.6 5.2 -0.6 5 2c-0.1 1.2 -0.6 1.8 -1.2 2.4" stroke="#2438f0" stroke-width="1.2" fill="none"/><path d="M988.8 495.90000000000003l0.2 3.8l3.6 -0.2z" fill="#1024e0"/>
<rect x="1000.8" y="493.8" width="2.2" height="8.4" fill="#f0d000" stroke="#443" stroke-width="0.4"/><rect x="1003.2" y="496.0" width="2" height="6.2" fill="#d81818" stroke="#433" stroke-width="0.4"/><rect x="1005.5" y="500.5" width="1.5" height="1.7" fill="#20b8d0"/><rect x="1007.4" y="498.7" width="1.9" height="3.5" fill="#18a038" stroke="#343" stroke-width="0.4"/>
<path d="M1005.8 493.90000000000003l1.8 2l3.4 -3.8" stroke="#e81818" stroke-width="1.3" fill="none"/>
<path d="M1016 494.2h-2.4q-1.2 0 -1.2 1.2v4.4q0 1.2 1.2 1.2h7.6q1.2 0 1.2 -1.2v-4.4q0 -1.2 -1.2 -1.2h-1.6" stroke="#2c5cf0" stroke-width="1.3" fill="none"/><path d="M1016.2 493.90000000000003l3 -2.2v4.4z" fill="#1c40e8"/>
<rect x="0" y="503" width="1024" height="2" fill="#000"/>
<rect x="1021.9" y="0" width="1.1" height="503" fill="#fff"/>
<rect x="1023" y="0" width="1" height="505" fill="#383838"/>
</svg>
</body></html>
